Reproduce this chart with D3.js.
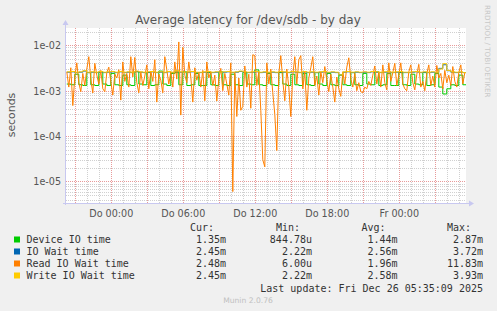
<!DOCTYPE html>
<html>
<head>
<meta charset="utf-8">
<script src="https://cdn.jsdelivr.net/npm/d3@7"></script>
<style>
  body { margin: 0; background: #f0f0f0; }
  svg { display: block; }
  text { font-family: "DejaVu Sans", sans-serif; }
  .mono { font-family: "DejaVu Sans Mono", monospace; font-size: 10px; fill: #333; }
</style>
</head>
<body>
<svg width="497" height="311"></svg>
<script>
// values in milliseconds
const seriesNames = ['Device IO time', 'IO Wait time', 'Read IO Wait time', 'Write IO Wait time'];
const seriesColors = ['#00cc00', '#0066b3', '#ff8000', '#ffcc00'];
const legendCur = ['1.35m', '2.45m', '2.48m', '2.45m'];
const legendMin = ['844.78u', '2.22m', '6.00u', '2.22m'];
const legendAvg = ['1.44m', '2.56m', '1.96m', '2.58m'];
const legendMax = ['2.87m', '3.72m', '11.83m', '3.93m'];

const xTickLabels = ['Do 00:00', 'Do 06:00', 'Do 12:00', 'Do 18:00', 'Fr 00:00'];
const xTickTimes = [new Date(2025, 11, 25, 0), new Date(2025, 11, 25, 6), new Date(2025, 11, 25, 12),
  new Date(2025, 11, 25, 18), new Date(2025, 11, 26, 0)];
const yTickValues = [1e-2, 1e-3, 1e-4, 1e-5];
const yTickLabels = ['1e-02', '1e-03', '1e-04', '1e-05'];

// device io time, 20 min samples from Wed 20:20
const deviceIO = [1.4, 1.35, 2.3, 1.35, 1.3, 2.5, 1.35, 1.3, 2.6, 1.4, 1.3, 2.4, 1.35, 1.3, 2.2, 1.35, 1.3, 2.6,
  1.4, 1.35, 2.5, 1.3, 1.35, 2.7, 1.4, 1.3, 2.4, 2.5, 1.35, 2.6, 1.3, 1.35, 2.4, 1.3, 1.3, 2.5, 1.35, 1.3,
  2.6, 1.35, 1.3, 2.3, 1.35, 1.3, 2.5, 1.4, 1.35, 2.87, 1.35, 1.3, 2.4, 1.35, 1.3, 2.5, 1.4, 1.3, 2.3, 1.35,
  1.3, 2.4, 1.35, 1.3, 2.5, 1.4, 1.3, 2.4, 1.35, 1.3, 2.2, 1.35, 1.3, 2.5, 1.35, 1.3, 2.4, 1.4, 1.35, 2.6,
  1.3, 1.35, 2.4, 1.3, 1.3, 2.5, 1.35, 1.3, 2.3, 1.4, 1.35, 2.5, 1.3, 1.35, 2.4, 1.2, 0.845, 1.1, 1.35, 1.3,
  2.2, 1.35, 1.35];

const ioWait = [2.55, 2.6, 2.5, 2.55, 2.7, 2.5, 2.55, 2.5, 2.6, 2.5, 2.55, 2.6, 2.5, 2.6, 2.5, 2.55,
  2.5, 2.65, 2.55, 2.5, 2.55, 2.6, 2.5, 2.55, 2.5, 2.6, 2.5, 2.7, 2.55, 2.5, 2.55, 2.6, 2.5, 2.5,
  2.55, 2.6, 2.5, 2.55, 2.5, 2.55, 2.6, 2.5, 2.55, 2.65, 2.55, 2.5, 2.55, 2.6, 2.5, 2.55, 2.5, 2.55,
  2.5, 2.6, 2.55, 2.5, 2.6, 2.55, 2.5, 2.6, 2.5, 2.55, 2.5, 2.55, 2.6, 2.5, 2.55, 2.5, 2.22, 2.55,
  2.6, 2.5, 2.55, 2.5, 2.55, 2.5, 2.6, 2.55, 2.5, 2.55, 2.6, 2.5, 2.55, 2.6, 2.5, 2.5, 2.55, 2.6,
  2.5, 2.55, 2.5, 2.55, 2.5, 3.1, 3.72, 2.75, 2.55, 2.5, 2.55, 2.5, 2.45];

// read io wait, 10 min samples from Wed 20:20
const readIO = [2.6, 1.2, 3.2, 0.47, 2.0, 4.1, 1.5, 0.95, 2.4, 1.3,
  3.0, 5.6, 1.8, 0.89, 4.0, 2.2, 1.4, 2.8, 1.1, 0.95,
  2.5, 3.3, 1.6, 0.8, 2.3, 1.9, 2.9, 0.62, 4.3, 1.6,
  2.4, 1.2, 5.6, 2.0, 5.4, 1.5, 0.9, 2.6, 1.3, 2.1,
  3.7, 1.1, 2.7, 1.6, 4.8, 0.56, 2.3, 1.7, 0.9, 5.6,
  2.9, 1.4, 2.6, 1.2, 4.3, 1.8, 11.83, 0.29, 9.0, 2.2,
  1.5, 4.3, 2.0, 0.56, 3.2, 1.7, 2.5, 1.2, 2.8, 0.6,
  4.3, 1.9, 2.6, 1.3, 2.2, 0.59, 1.8, 3.1, 1.0, 2.4,
  1.4, 0.8, 4.1, 0.006, 2.5, 0.27, 1.9, 0.37, 0.45, 3.5,
  1.2, 2.3, 0.41, 6.2, 5.9, 1.3, 2.6, 0.37, 0.03, 0.021,
  4.1, 1.4, 3.0, 0.9, 0.3, 0.048, 2.4, 5.9, 1.6, 0.6,
  3.0, 1.2, 0.27, 2.2, 5.6, 1.4, 4.8, 5.9, 1.1, 2.7,
  0.37, 1.9, 3.2, 5.6, 1.3, 2.1, 0.8, 2.6, 1.5, 3.4,
  1.7, 0.95, 2.3, 1.2, 0.56, 2.0, 1.1, 0.75, 2.6, 1.4,
  3.3, 5.3, 1.8, 1.2, 2.4, 1.0, 1.5, 0.95, 0.9, 1.2,
  1.1, 1.6, 1.3, 2.2, 3.5, 1.4, 2.6, 1.2, 3.7, 1.5,
  1.04, 4.1, 1.6, 2.5, 4.0, 1.3, 2.2, 4.1, 1.4, 1.1,
  1.0, 2.6, 3.7, 1.5, 1.04, 2.3, 3.8, 1.2, 1.6, 1.0,
  2.4, 3.7, 1.3, 2.1, 1.2, 3.6, 1.9, 2.4, 1.1, 2.8,
  1.5, 2.2, 1.3, 3.4, 1.6, 1.2, 2.5, 3.7, 1.4, 2.48];

const writeIO = [2.6, 2.65, 2.55, 2.6, 2.75, 2.55, 2.6, 2.55, 2.65, 2.55, 2.6, 2.65, 2.55, 2.65, 2.55, 2.6, 2.55,
  2.7, 2.6, 2.55, 2.6, 2.65, 2.55, 2.6, 2.55, 2.65, 2.55, 2.75, 2.6, 2.55, 2.6, 2.65, 2.55, 2.55, 2.6, 2.65, 2.55,
  2.6, 2.55, 2.6, 2.65, 2.55, 2.6, 2.7, 2.6, 2.55, 2.6, 2.65, 2.55, 2.6, 2.55, 2.6, 2.55, 2.65, 2.6, 2.55, 2.65,
  2.6, 2.55, 2.65, 2.55, 2.6, 2.55, 2.6, 2.65, 2.55, 2.6, 2.55, 2.22, 2.6, 2.65, 2.55, 2.6, 2.55, 2.6, 2.55, 2.65,
  2.6, 2.55, 2.6, 2.65, 2.55, 2.6, 2.65, 2.55, 2.55, 2.6, 2.65, 2.55, 2.6, 2.55, 2.6, 2.55, 3.0, 3.93, 2.8, 2.6,
  2.55, 2.6, 2.5, 2.45];

const svg = d3.select('svg');
const plot = { left: 66, right: 466, top: 28, bottom: 203 };

const t0 = new Date(2025, 11, 24, 20, 16);
const t1 = new Date(2025, 11, 26, 5, 36);
const sampleStart = new Date(2025, 11, 24, 20, 20);

const x = d3.scaleTime().domain([t0, t1]).range([plot.left, plot.right]);
const y = d3.scaleLog().domain([3.36e-6, 0.024]).range([plot.bottom, plot.top]);

// plot area
svg.append('rect')
  .attr('x', plot.left).attr('y', plot.top)
  .attr('width', plot.right - plot.left).attr('height', plot.bottom - plot.top)
  .attr('fill', '#fff');

const grid = svg.append('g').attr('shape-rendering', 'crispEdges');

// minor horizontal grid
const minorY = [];
for (let e = -6; e <= -2; e++) {
  for (let k = 2; k <= 9; k++) {
    const v = k * Math.pow(10, e);
    if (v > y.domain()[0] && v < y.domain()[1]) minorY.push(v);
  }
}
grid.selectAll('.hminor').data(minorY).enter().append('line')
  .attr('x1', plot.left).attr('x2', plot.right)
  .attr('y1', d => Math.round(y(d)) + 0.5).attr('y2', d => Math.round(y(d)) + 0.5)
  .attr('stroke', '#d0d0d0').attr('stroke-dasharray', '1,1');

// minor vertical grid, every hour
const hours = d3.timeHour.every(1).range(t0, t1);
grid.selectAll('.vminor').data(hours.filter(d => d.getHours() % 3 !== 0)).enter().append('line')
  .attr('y1', plot.top).attr('y2', plot.bottom)
  .attr('x1', d => Math.round(x(d)) + 0.5).attr('x2', d => Math.round(x(d)) + 0.5)
  .attr('stroke', '#d0d0d0').attr('stroke-dasharray', '1,1');

// major grid
grid.selectAll('.hmajor').data(yTickValues).enter().append('line')
  .attr('x1', plot.left).attr('x2', plot.right)
  .attr('y1', d => Math.round(y(d)) + 0.5).attr('y2', d => Math.round(y(d)) + 0.5)
  .attr('stroke', '#e89a9a').attr('stroke-dasharray', '1,1');

grid.selectAll('.vmajor').data(hours.filter(d => d.getHours() % 3 === 0)).enter().append('line')
  .attr('y1', plot.top).attr('y2', plot.bottom)
  .attr('x1', d => Math.round(x(d)) + 0.5).attr('x2', d => Math.round(x(d)) + 0.5)
  .attr('stroke', '#e89a9a').attr('stroke-dasharray', '1,1');

// series
svg.append('clipPath').attr('id', 'clip').append('rect')
  .attr('x', plot.left).attr('y', plot.top)
  .attr('width', plot.right - plot.left).attr('height', plot.bottom - plot.top);

const toPoints = (vals, stepMin) => vals.map((v, i) => ({
  t: new Date(+sampleStart + i * stepMin * 60000),
  v: v / 1000
}));

const stepLine = d3.line().x(d => x(d.t)).y(d => y(d.v)).curve(d3.curveStepAfter);
const plainLine = d3.line().x(d => x(d.t)).y(d => y(d.v));
const series = [
  { pts: toPoints(deviceIO, 20), gen: stepLine },
  { pts: toPoints(ioWait, 20), gen: stepLine },
  { pts: toPoints(readIO, 10), gen: plainLine },
  { pts: toPoints(writeIO, 20), gen: stepLine }
];

const lines = svg.append('g').attr('clip-path', 'url(#clip)');
lines.selectAll('path').data(series).enter().append('path')
  .attr('d', d => d.gen(d.pts))
  .attr('fill', 'none')
  .attr('stroke', (d, i) => seriesColors[i])
  .attr('stroke-width', 1);

// axes
const axisColor = '#c8c8f0';
svg.append('line').attr('x1', plot.left - 0.5).attr('x2', plot.left - 0.5)
  .attr('y1', plot.bottom + 2).attr('y2', plot.top - 4)
  .attr('stroke', axisColor);
svg.append('path').attr('d', `M${plot.left - 3.5},${plot.top - 3} L${plot.left - 0.5},${plot.top - 8} L${plot.left + 2.5},${plot.top - 3} Z`)
  .attr('fill', axisColor);
svg.append('line').attr('x1', plot.left - 3).attr('x2', plot.right + 5)
  .attr('y1', plot.bottom + 0.5).attr('y2', plot.bottom + 0.5)
  .attr('stroke', axisColor);
svg.append('path').attr('d', `M${plot.right + 3},${plot.bottom - 2.5} L${plot.right + 8},${plot.bottom + 0.5} L${plot.right + 3},${plot.bottom + 3.5} Z`)
  .attr('fill', axisColor);

// x axis labels
const xAxis = d3.axisBottom(x).tickValues(xTickTimes)
  .tickFormat((d, i) => xTickLabels[i]).tickSize(0).tickPadding(0);
const xg = svg.append('g').attr('transform', `translate(0,${plot.bottom})`).call(xAxis);
xg.select('.domain').remove();
xg.selectAll('text').attr('dy', null).attr('y', 13.5)
  .attr('font-family', '"DejaVu Sans", sans-serif').attr('font-size', 9.6).attr('fill', '#555');

// y axis labels
const yAxis = d3.axisLeft(y).tickValues(yTickValues)
  .tickFormat((d, i) => yTickLabels[i]).tickSize(0).tickPadding(0);
const yg = svg.append('g').attr('transform', `translate(${plot.left - 5},0)`).call(yAxis);
yg.select('.domain').remove();
yg.selectAll('text').attr('dy', '0.35em').attr('x', 0)
  .attr('font-family', '"DejaVu Sans", sans-serif').attr('font-size', 9.6).attr('fill', '#555');

// titles
svg.append('text').attr('x', 248).attr('y', 23.5).attr('text-anchor', 'middle')
  .attr('font-size', 12).attr('fill', '#555')
  .text('Average latency for /dev/sdb - by day');

svg.append('text').attr('transform', 'translate(15,115) rotate(-90)')
  .attr('text-anchor', 'middle').attr('font-size', 10.9).attr('fill', '#555')
  .text('seconds');

svg.append('text').attr('transform', 'translate(485,5) rotate(90)')
  .attr('font-size', 7.2).attr('fill', '#c8c8c8')
  .text('RRDTOOL / TOBI OETIKER');

// legend
const colEnds = [226, 312, 397.5, 483];
const headers = ['Cur:', 'Min:', 'Avg:', 'Max:'];
const legend = svg.append('g');
legend.selectAll('.hdr').data(headers).enter().append('text')
  .attr('class', 'mono').attr('x', (d, i) => colEnds[i] - 12).attr('y', 231)
  .attr('text-anchor', 'end').text(d => d);

const cols = [legendCur, legendMin, legendAvg, legendMax];
seriesNames.forEach((name, i) => {
  const by = 243 + i * 12;
  legend.append('rect').attr('x', 14).attr('y', by - 6.5).attr('width', 6).attr('height', 6)
    .attr('fill', seriesColors[i]);
  legend.append('text').attr('class', 'mono').attr('x', 26.5).attr('y', by).text(name);
  cols.forEach((col, j) => {
    legend.append('text').attr('class', 'mono').attr('x', colEnds[j]).attr('y', by)
      .attr('text-anchor', 'end').text(col[i]);
  });
});

legend.append('text').attr('class', 'mono').attr('x', 483).attr('y', 291.5)
  .attr('text-anchor', 'end').text('Last update: Fri Dec 26 05:35:09 2025');

svg.append('text').attr('x', 248).attr('y', 303).attr('text-anchor', 'middle')
  .attr('font-size', 7.6).attr('fill', '#c0c0c0').text('Munin 2.0.76');
</script>
</body>
</html>
